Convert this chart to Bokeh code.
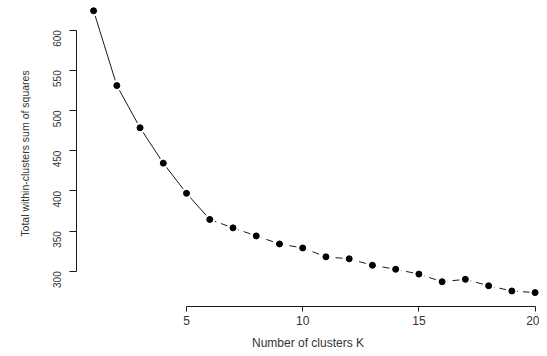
import math
from bokeh.plotting import figure
from bokeh.models import Range1d, FixedTicker, ColumnDataSource
from bokeh.embed import file_html
from bokeh.resources import INLINE

# ---- data ----
k_values = list(range(1, 21))
wss = [624.0, 531.0, 478.5, 434.5, 397.0, 364.5, 354.0, 344.0, 334.0, 329.0,
       318.0, 315.5, 307.5, 302.5, 296.5, 287.0, 290.0, 282.0, 275.5, 273.5]
x_ticks = [5, 10, 15, 20]
y_ticks = [300, 350, 400, 450, 500, 550, 600]
x_title = "Number of clusters K"
y_title = "Total within-clusters sum of squares"
elbow = 6  # line becomes dashed after this K

FONT = "Liberation Sans"
INK = "#1a1a1a"
TXT = "#333333"

p = figure(width=539, height=352, output_backend="svg", toolbar_location=None,
           x_range=Range1d(0.265, 20.19), y_range=Range1d(256.2, 636.8),
           min_border_left=76, min_border_right=0, min_border_top=0,
           min_border_bottom=45)
p.outline_line_color = None
p.xgrid.visible = False
p.ygrid.visible = False
p.background_fill_color = "white"
p.border_fill_color = "white"

solid_src = ColumnDataSource(dict(x=k_values[:elbow], y=wss[:elbow]))
dash_src = ColumnDataSource(dict(x=k_values[elbow - 1:], y=wss[elbow - 1:]))
pts_src = ColumnDataSource(dict(x=k_values, y=wss))

p.line("x", "y", source=solid_src, line_color=INK, line_width=1)
p.line("x", "y", source=dash_src, line_color=INK, line_width=1, line_dash="7 5")
# white halos give the R type="b" gaps around points
p.scatter("x", "y", source=pts_src, size=11, fill_color="white", line_color=None)
p.scatter("x", "y", source=pts_src, size=6, fill_color="black", line_color="black")

# axes
for ax in p.xaxis:
    ax.ticker = FixedTicker(ticks=x_ticks)
    ax.bounds = (min(x_ticks), max(x_ticks))
    ax.major_tick_out = 5
    ax.major_tick_in = 0
    ax.minor_tick_line_color = None
    ax.axis_line_color = INK
    ax.major_tick_line_color = INK
    ax.major_label_text_font = FONT
    ax.major_label_text_font_size = "12px"
    ax.major_label_text_color = TXT
    ax.major_label_standoff = 4
    ax.axis_label = x_title
    ax.axis_label_text_font = FONT
    ax.axis_label_text_font_size = "12px"
    ax.axis_label_text_font_style = "normal"
    ax.axis_label_text_color = TXT
    ax.axis_label_standoff = 8

for ax in p.yaxis:
    ax.ticker = FixedTicker(ticks=y_ticks)
    ax.bounds = (min(y_ticks), max(y_ticks))
    ax.major_tick_out = 7
    ax.major_tick_in = 0
    ax.minor_tick_line_color = None
    ax.axis_line_color = INK
    ax.major_tick_line_color = INK
    ax.major_label_orientation = math.pi / 2
    ax.major_label_text_font = FONT
    ax.major_label_text_font_size = "10px"
    ax.major_label_text_color = TXT
    ax.major_label_standoff = 12
    ax.axis_label = y_title
    ax.axis_label_text_font = FONT
    ax.axis_label_text_font_size = "10.5px"
    ax.axis_label_text_font_style = "normal"
    ax.axis_label_text_color = TXT
    ax.axis_label_standoff = 16

open("out.html", "w").write(file_html(p, INLINE))
